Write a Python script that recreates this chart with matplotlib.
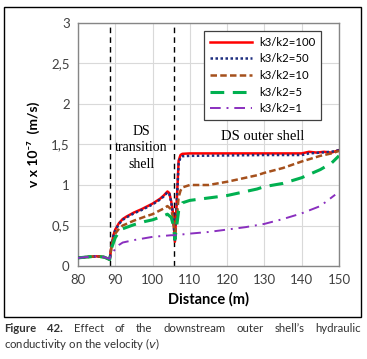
import matplotlib.pyplot as plt
from matplotlib.patches import Rectangle
from matplotlib.ticker import FuncFormatter, MultipleLocator

# ---- data ----
x_100 = [80, 82, 85, 87, 88.5, 89, 89.5, 90, 91, 92, 93, 95, 97, 100, 102, 103, 104, 104.5,
         105, 105.5, 106, 106.3, 106.7, 107, 107.5, 108, 110, 120, 130, 138, 140, 142, 144,
         146, 148, 150]
y_100 = [0.10, 0.11, 0.12, 0.11, 0.08, 0.25, 0.38, 0.45, 0.53, 0.58, 0.61, 0.66, 0.70, 0.77,
         0.83, 0.87, 0.92, 0.90, 0.80, 0.65, 0.30, 0.60, 1.00, 1.30, 1.37, 1.385, 1.39, 1.39,
         1.39, 1.39, 1.39, 1.41, 1.40, 1.41, 1.40, 1.43]

x_50 = [80, 82, 85, 87, 88.5, 89, 89.5, 90, 91, 92, 93, 95, 97, 100, 102, 103, 104, 104.5,
        105, 105.5, 106, 106.3, 106.7, 107, 107.5, 108, 110, 120, 130, 138, 140, 142, 145,
        148, 150]
y_50 = [0.10, 0.11, 0.12, 0.11, 0.08, 0.24, 0.37, 0.44, 0.52, 0.57, 0.60, 0.65, 0.69, 0.76,
        0.82, 0.86, 0.91, 0.89, 0.79, 0.64, 0.30, 0.58, 0.98, 1.27, 1.34, 1.355, 1.36, 1.365,
        1.37, 1.37, 1.37, 1.39, 1.40, 1.41, 1.43]

x_10 = [80, 82, 85, 87, 88.5, 89, 90, 91, 92, 95, 98, 100, 103, 104, 105, 105.5, 106, 106.5,
        107, 107.5, 108, 110, 115, 120, 125, 128, 130, 135, 140, 145, 148, 150]
y_10 = [0.10, 0.11, 0.12, 0.11, 0.08, 0.25, 0.40, 0.46, 0.50, 0.56, 0.61, 0.64, 0.71, 0.74,
        0.70, 0.60, 0.35, 0.60, 0.85, 0.93, 0.97, 1.00, 1.00, 1.04, 1.09, 1.12, 1.15, 1.21,
        1.29, 1.36, 1.39, 1.42]

x_5 = [80, 82, 85, 87, 88.5, 89, 90, 91, 92, 95, 98, 100, 103, 104, 105, 105.5, 106, 106.5,
       107, 107.5, 108, 110, 115, 120, 125, 128, 130, 135, 140, 145, 148, 150]
y_5 = [0.10, 0.11, 0.12, 0.11, 0.08, 0.22, 0.35, 0.42, 0.46, 0.51, 0.55, 0.57, 0.62, 0.64,
       0.60, 0.52, 0.33, 0.50, 0.68, 0.74, 0.78, 0.81, 0.84, 0.87, 0.92, 0.95, 0.98, 1.02,
       1.09, 1.19, 1.27, 1.36]

x_1 = [80, 82, 85, 87, 88.5, 89, 90, 91, 92, 95, 100, 105, 106, 110, 115, 120, 125, 130, 135,
       140, 145, 149]
y_1 = [0.10, 0.11, 0.12, 0.11, 0.09, 0.15, 0.21, 0.26, 0.29, 0.32, 0.36, 0.38, 0.38, 0.40,
       0.42, 0.45, 0.48, 0.52, 0.58, 0.65, 0.74, 0.88]

labels = ["k3/k2=100", "k3/k2=50", "k3/k2=10", "k3/k2=5", "k3/k2=1"]
zone_bounds = [88.6, 105.8]

SANS = ["Lato", "DejaVu Sans"]
SERIF = ["Liberation Serif", "DejaVu Serif"]

fig = plt.figure(figsize=(3.67, 3.59), dpi=100)
ax = fig.add_axes([0.2125, 0.259, 0.711, 0.677])

styles = [
    dict(color="#ff0000", lw=1.8, ls="-"),
    dict(color="#1f2f80", lw=1.8, ls=(0, (1, 1))),
    dict(color="#a5501c", lw=1.8, ls=(0, (2.6, 1.3))),
    dict(color="#00b050", lw=2.2, ls=(0, (4.5, 2.8))),
    dict(color="#8a2fbf", lw=1.4, ls=(0, (5.5, 3, 1, 3))),
]
series = [(x_100, y_100), (x_50, y_50), (x_10, y_10), (x_5, y_5), (x_1, y_1)]
for i, ((xs, ys), st, lab) in enumerate(zip(series, styles, labels)):
    ax.plot(xs, ys, label=lab, zorder=3 + i, **st)

for xb in zone_bounds:
    ax.axvline(xb, color="black", lw=1.0, ls=(0, (4, 3)), zorder=2)

ax.set_xlim(80, 150)
ax.set_ylim(0, 3)
ax.xaxis.set_major_locator(MultipleLocator(10))
ax.yaxis.set_major_locator(MultipleLocator(0.5))
ax.yaxis.set_major_formatter(FuncFormatter(lambda v, _: f"{v:g}".replace(".", ",")))
ax.grid(True, color="#d9d9d9", lw=0.8, zorder=0)
ax.set_axisbelow(True)
for sp in ax.spines.values():
    sp.set_color("#868686")
    sp.set_linewidth(1.0)
ax.tick_params(length=0, pad=6, labelsize=9.5, labelcolor="#404040")
for lbl in ax.get_xticklabels() + ax.get_yticklabels():
    lbl.set_family(SANS)

ax.set_xlabel("Distance (m)", fontsize=10.5, fontweight="bold", family=SANS, labelpad=4)
ax.set_ylabel("v x 10⁻⁷  (m/s)", fontsize=10, fontweight="bold", family=SANS, labelpad=8)

ax.text(97, 1.46, "DS\ntransition\nshell", ha="center", va="center", fontsize=10,
        family=SERIF, linespacing=1.35, zorder=10)
ax.text(129.5, 1.6, "DS outer shell", ha="center", va="center", fontsize=10.5,
        family=SERIF, zorder=10)

leg = ax.legend(loc="upper right", bbox_to_anchor=(0.931, 0.967), fancybox=False,
                framealpha=1, edgecolor="#404040", prop={"family": SANS, "size": 8.2},
                handlelength=3.7, labelspacing=0.5, borderpad=0.5, handletextpad=0.6,
                borderaxespad=0)
leg.get_frame().set_linewidth(0.9)
leg.set_zorder(20)

# outer frame around chart
fig.patches.append(Rectangle((0.011, 0.117), 0.973, 0.863, transform=fig.transFigure,
                             fill=False, edgecolor="black", lw=1.0))

# caption, first line justified
cap_color = "#333333"
cap_size = 8.2
words = [("Figure", "bold"), ("42.", "bold"), ("Effect", "normal"), ("of", "normal"),
         ("the", "normal"), ("downstream", "normal"), ("outer", "normal"),
         ("shell’s", "normal"), ("hydraulic", "normal")]
left, right, y1 = 0.011, 0.984, 0.075
renderer = fig.canvas.get_renderer()
texts = [fig.text(0, y1, w, fontsize=cap_size, fontweight=fw, family=SANS, color=cap_color,
                  va="baseline") for w, fw in words]
widths = [t.get_window_extent(renderer).width / fig.bbox.width for t in texts]
gap = (right - left - sum(widths)) / (len(words) - 1)
xpos = left
for t, w in zip(texts, widths):
    t.set_x(xpos)
    xpos += w + gap
fig.text(left, 0.031, "conductivity on the velocity ($\\mathit{v}$)", fontsize=cap_size,
         family=SANS, color=cap_color, va="baseline")

fig.savefig("out.png", dpi=100)
